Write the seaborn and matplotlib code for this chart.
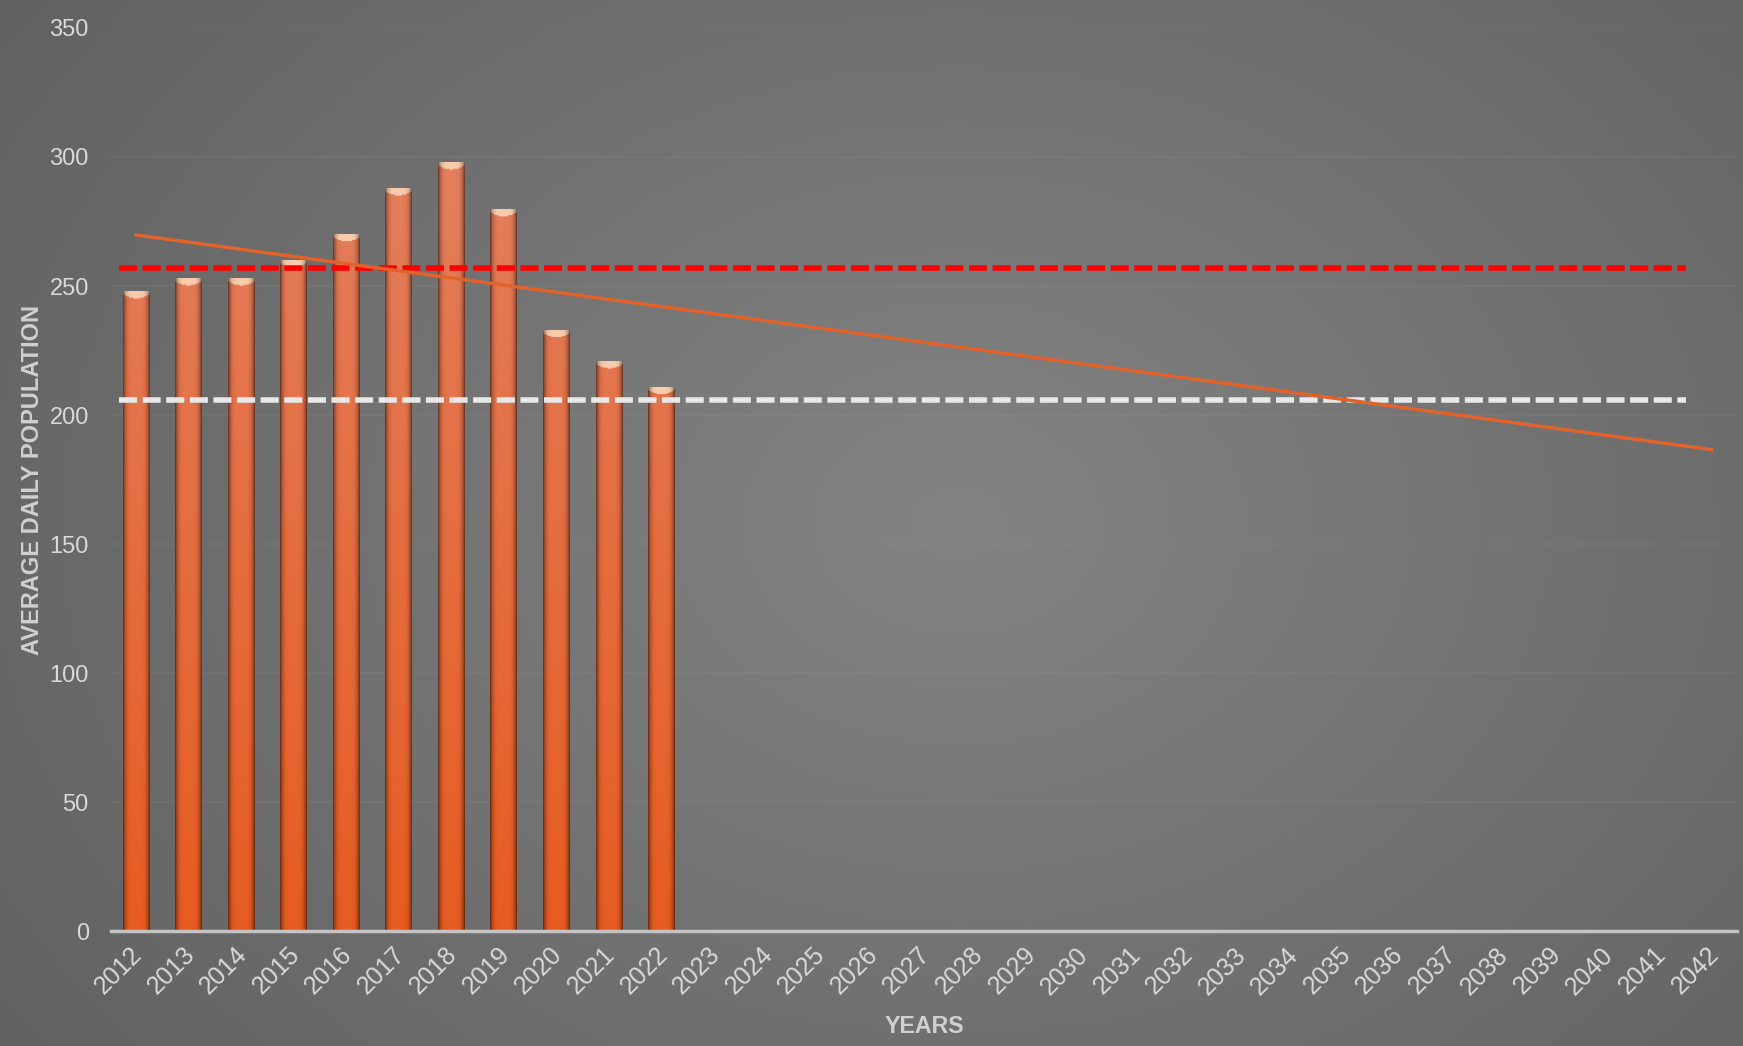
import numpy as np
import pandas as pd
import matplotlib
matplotlib.use("Agg")
import matplotlib.pyplot as plt
import matplotlib.transforms as mtransforms
import seaborn as sns

# Datos
years = [str(y) for y in range(2012, 2043)]
pop_years = [str(y) for y in range(2012, 2023)]
population = [248, 253, 253, 260, 270, 288, 298, 280, 233, 221, 211]
red_level = 257
white_level = 206
y_ticks = [0, 50, 100, 150, 200, 250, 300, 350]

sns.set_theme(style="white")
plt.rcParams['font.family'] = ['Liberation Sans', 'DejaVu Sans']

text_color = '#d9d9d9'

fig = plt.figure(figsize=(17.43, 10.46), dpi=100)

# Fondo gris con degradado radial
bg = fig.add_axes([0, 0, 1, 1], zorder=-10)
gx, gy = np.meshgrid(np.linspace(0, 1, 400), np.linspace(0, 1, 300))
d = np.sqrt(((gx - 0.55) / 0.7) ** 2 + ((gy - 0.5) / 0.9) ** 2)
val = np.clip(0.515 - 0.14 * d, 0, 1)
bg.imshow(np.dstack([val, val, val]), extent=(0, 1, 0, 1), aspect='auto', origin='lower')
bg.axis('off')

ax = fig.add_axes([0.0637, 0.1095, 0.9329, 0.8639])
ax.set_zorder(1)
ax.patch.set_alpha(0)

df = pd.DataFrame({'year': pop_years, 'pop': population})
sns.barplot(data=df, x='year', y='pop', order=years, width=0.5,
            color='#e5672f', saturation=1, linewidth=0, ax=ax, zorder=2)

# Degradado de los cilindros con brillo en la tapa
bottom_c = np.array([0.91, 0.36, 0.13])
top_c = np.array([0.89, 0.50, 0.37])
cap_c = np.array([0.97, 0.80, 0.68])
u = np.linspace(0, 1, 40)[None, :]
shade = (1 - 0.55 * np.abs(2 * u - 1) ** 5)[..., None]
for p in ax.patches:
    x0, w, h = p.get_x(), p.get_width(), p.get_height()
    if not np.isfinite(h) or h <= 0:
        continue
    yy = np.linspace(0, h, 600)[:, None]
    t = (yy / 300.0)[..., None]
    base = bottom_c * (1 - t) + top_c * t
    cap = (yy > h - 3.0 + 1.6 * np.abs(2 * u - 1) ** 2)[..., None]
    img = np.where(cap, cap_c, base) * shade
    im = ax.imshow(np.clip(img, 0, 1), extent=(x0, x0 + w, 0, h), origin='lower',
                   aspect='auto', zorder=2.5)
    im.set_clip_path(p)

# Línea de tendencia
xs = np.arange(len(years))
coef = np.polyfit(np.arange(len(population)), population, 1)
ax.plot(xs, np.polyval(coef, xs), color='#e2622c', lw=2.5, zorder=4,
        solid_capstyle='round')

# Líneas de referencia
lw = 4.0
ax.hlines(red_level, -0.32, 29.5, color='#ff0000', lw=lw,
          linestyles=[(0, (13 / lw, 4 / lw))], zorder=3)
ax.hlines(white_level, -0.32, 29.5, color='#e8e8e8', lw=lw,
          linestyles=[(0, (13 / lw, 4 / lw))], zorder=3)

ax.set_xlim(-0.47, 30.47)
ax.set_ylim(0, 350)
ax.set_yticks(y_ticks)
ax.yaxis.grid(True, color='white', alpha=0.035, lw=1.5)
ax.set_axisbelow(True)

for s in ['top', 'right', 'left']:
    ax.spines[s].set_visible(False)
ax.spines['bottom'].set_color('#c4c4c4')
ax.spines['bottom'].set_linewidth(2.5)

ax.tick_params(axis='both', length=0, colors=text_color)
ax.tick_params(axis='y', pad=16, labelsize=17)
ax.tick_params(axis='x', pad=8, labelsize=18)
for lab in ax.get_yticklabels():
    lab.set_family(['Liberation Sans Narrow', 'Liberation Sans'])
shift = mtransforms.ScaledTranslation(-6 / 100, 0, fig.dpi_scale_trans)
for lab in ax.get_xticklabels():
    lab.set_rotation(45)
    lab.set_ha('right')
    lab.set_va('top')
    lab.set_rotation_mode('anchor')
    lab.set_transform(lab.get_transform() + shift)

ax.set_xlabel('YEARS', color='#d0d0d0', fontsize=16.7, fontweight='bold')
ax.set_ylabel('AVERAGE DAILY POPULATION', color='#d0d0d0', fontsize=17,
              fontweight='bold')
ax.xaxis.set_label_coords(0.5, -0.092)
ax.yaxis.set_label_coords(-0.041, 0.5)

plt.savefig('out.png', dpi=100)
plt.close()
